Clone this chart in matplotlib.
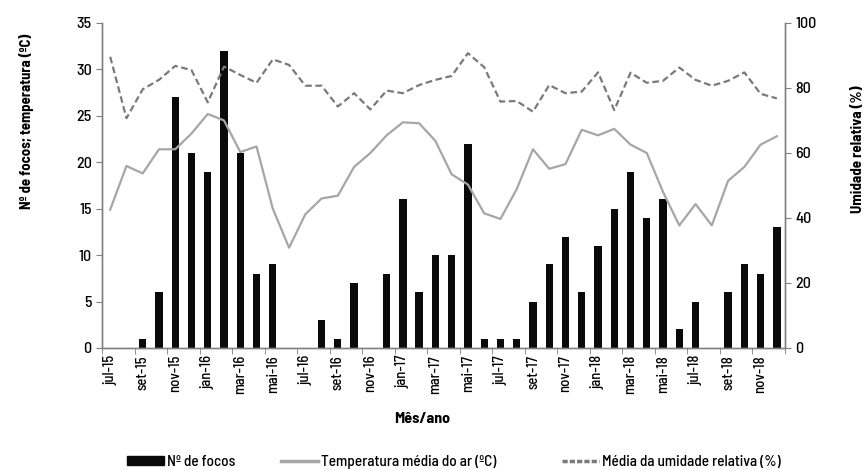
import matplotlib
matplotlib.use("Agg")
import matplotlib.pyplot as plt
from matplotlib.lines import Line2D
from matplotlib.patches import Patch
import numpy as np

plt.rcParams['font.family'] = ['Barlow Semi Condensed', 'Liberation Sans Narrow', 'DejaVu Sans']
plt.rcParams['font.weight'] = 'medium'

months = ["jul-15","ago-15","set-15","out-15","nov-15","dez-15",
          "jan-16","fev-16","mar-16","abr-16","mai-16","jun-16",
          "jul-16","ago-16","set-16","out-16","nov-16","dez-16",
          "jan-17","fev-17","mar-17","abr-17","mai-17","jun-17",
          "jul-17","ago-17","set-17","out-17","nov-17","dez-17",
          "jan-18","fev-18","mar-18","abr-18","mai-18","jun-18",
          "jul-18","ago-18","set-18","out-18","nov-18","dez-18"]

focos = [0, 0, 1, 6, 27, 21,
         19, 32, 21, 8, 9, 0,
         0, 3, 1, 7, 0, 8,
         16, 6, 10, 10, 22, 1,
         1, 1, 5, 9, 12, 6,
         11, 15, 19, 14, 16, 2,
         5, 0, 6, 9, 8, 13]

temperatura = [14.9, 19.6, 18.8, 21.4, 21.4, 23.1,
               25.2, 24.5, 21.1, 21.7, 15.0, 10.8,
               14.4, 16.1, 16.4, 19.5, 21.0, 22.9,
               24.3, 24.2, 22.3, 18.7, 17.6, 14.5,
               13.9, 17.1, 21.4, 19.3, 19.8, 23.5,
               22.9, 23.6, 21.9, 21.0, 16.8, 13.2,
               15.5, 13.2, 18.0, 19.5, 21.9, 22.8]

umidade = [89.6, 70.7, 79.6, 82.5, 86.8, 85.5,
           75.6, 86.6, 84.0, 81.6, 88.8, 87.1,
           80.7, 80.7, 74.3, 78.4, 73.4, 79.2,
           78.4, 80.9, 82.5, 83.7, 90.7, 86.4,
           75.8, 76.0, 72.7, 80.9, 78.4, 78.9,
           84.8, 73.2, 84.7, 81.6, 82.2, 86.3,
           82.5, 80.7, 82.2, 84.8, 78.2, 76.8]

x = np.arange(len(months))
axis_col = '#808080'
temp_col = '#a6a6a6'
umid_col = '#7a7a7a'

fig = plt.figure(figsize=(8.65, 4.7), dpi=100)
ax = fig.add_axes([0.118, 0.2596, 0.7895, 0.6915])
ax2 = ax.twinx()

ax.bar(x, focos, width=0.45, color='#0a0a0a', zorder=2)
ax.plot(x, temperatura, color=temp_col, lw=1.6, zorder=3)
ax2.plot(x, umidade, color=umid_col, lw=1.6, ls=(0, (3, 1.6)), zorder=3)

ax.set_xlim(-0.5, len(months) - 0.5)
ax.set_ylim(0, 35)
ax2.set_ylim(0, 100)
ax.set_yticks(np.arange(0, 36, 5))
ax2.set_yticks(np.arange(0, 101, 20))

ax.set_xticks(x[::2])
ax.set_xticklabels(months[::2], rotation=90, fontsize=10.5)
ax.set_xticks(np.arange(-0.5, len(months), 2), minor=True)
ax.tick_params(axis='x', which='major', length=0, pad=5)
ax.tick_params(axis='x', which='minor', length=4, color=axis_col, direction='out')
ax.tick_params(axis='y', labelsize=11.5, length=4, color=axis_col)
ax2.tick_params(axis='y', labelsize=11.5, length=4, color=axis_col)

for a in (ax, ax2):
    a.spines['top'].set_visible(False)
    for s in ('left', 'right', 'bottom'):
        a.spines[s].set_color(axis_col)
        a.spines[s].set_linewidth(1.0)

ax.set_ylabel('Nº de focos; temperatura (ºC)', fontsize=10.6, fontweight='bold')
ax.yaxis.set_label_coords(-0.1, 0.698)
ax2.set_ylabel('Umidade relativa (%)', fontsize=10.8, fontweight='bold')
ax2.yaxis.set_label_coords(1.097, 0.612)
ax.set_xlabel('Mês/ano', fontsize=11.5, fontweight='bold')
ax.xaxis.set_label_coords(0.469, -0.198)

handles = [Patch(facecolor='#0a0a0a', edgecolor='#0a0a0a'),
           Line2D([0], [0], color=temp_col, lw=2.5),
           Line2D([0], [0], color=umid_col, lw=2.5, ls=(0, (1.5, 0.6)))]
labels = ['Nº de focos', 'Temperatura média do ar (ºC)', 'Média da umidade relativa (%)']
starts = [127, 281, 562]
for h, lab, xs in zip(handles, labels, starts):
    fig.legend([h], [lab], loc='center left', bbox_to_anchor=(xs / 865, 0.017),
               frameon=False, fontsize=11, handlelength=2.4, handleheight=0.55,
               handletextpad=0.2, borderpad=0, borderaxespad=0)

fig.savefig('out.png', dpi=100)
